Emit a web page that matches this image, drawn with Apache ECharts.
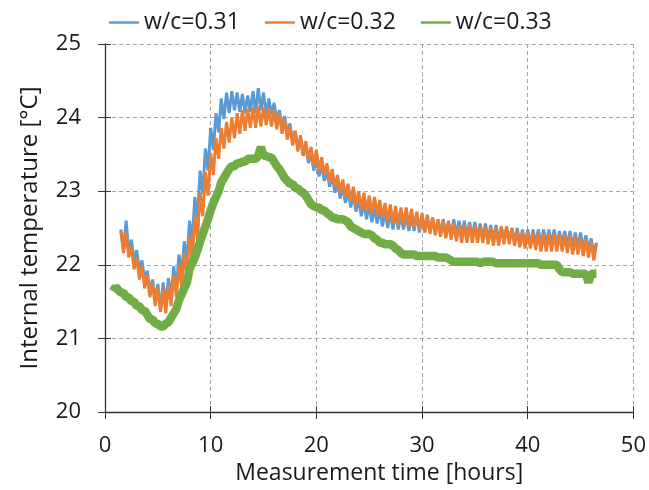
<!DOCTYPE html>
<html>
<head>
<meta charset="utf-8">
<script src="https://cdn.jsdelivr.net/npm/echarts@6/dist/echarts.min.js"></script>
<style>
html, body { margin: 0; padding: 0; background: #fff; }
#main { width: 649px; height: 490px; }
</style>
</head>
<body>
<div id="main"></div>
<script>
// legend names and colours
var seriesNames = ['w/c=0.31', 'w/c=0.32', 'w/c=0.33'];
var seriesColors = ['#5B9BD5', '#ED7D31', '#70AD47'];

// readings every 0.25 h
var sampleStep = 0.25;
var start031 = 1.5;
var start032 = 1.5;
var start033 = 0.75;

// internal temperature [°C], w/c=0.31
var temp031 = [
    22.48, 22.20, 22.60, 22.18, 22.34, 22.05, 22.20, 21.92, 22.06, 21.80,
    21.92, 21.64, 21.80, 21.52, 21.74, 21.38, 21.76, 21.45, 21.82, 21.55,
    21.98, 21.68, 22.14, 21.86, 22.32, 22.04, 22.60, 22.30, 22.92, 22.62,
    23.28, 22.96, 23.58, 23.28, 23.86, 23.56, 24.06, 23.80, 24.26, 23.98,
    24.34, 24.06, 24.36, 24.10, 24.34, 24.08, 24.32, 24.06, 24.30, 24.08,
    24.36, 24.06, 24.40, 24.10, 24.34, 24.04, 24.26, 24.04, 24.20, 23.96,
    24.10, 23.86, 24.02, 23.78, 23.92, 23.68, 23.82, 23.58, 23.72, 23.48,
    23.62, 23.38, 23.52, 23.28, 23.44, 23.20, 23.36, 23.14, 23.28, 23.06,
    23.22, 22.98, 23.14, 22.90, 23.06, 22.84, 23.02, 22.78, 22.96, 22.72,
    22.90, 22.66, 22.84, 22.62, 22.82, 22.58, 22.78, 22.56, 22.76, 22.52,
    22.74, 22.50, 22.72, 22.48, 22.72, 22.48, 22.68, 22.48, 22.68, 22.46,
    22.66, 22.46, 22.68, 22.44, 22.66, 22.44, 22.64, 22.44, 22.64, 22.42,
    22.62, 22.42, 22.62, 22.40, 22.60, 22.40, 22.62, 22.40, 22.60, 22.40,
    22.60, 22.38, 22.58, 22.38, 22.58, 22.36, 22.56, 22.36, 22.56, 22.34,
    22.54, 22.34, 22.54, 22.32, 22.52, 22.32, 22.52, 22.32, 22.50, 22.30,
    22.50, 22.30, 22.48, 22.28, 22.48, 22.26, 22.48, 22.28, 22.48, 22.28,
    22.48, 22.28, 22.48, 22.28, 22.48, 22.26, 22.46, 22.28, 22.46, 22.26,
    22.46, 22.24, 22.44, 22.24, 22.44, 22.22, 22.40, 22.20, 22.36, 22.16,
    22.30
];

// w/c=0.32
var temp032 = [
    22.46, 22.16, 22.44, 22.10, 22.24, 21.94, 22.10, 21.80, 21.98, 21.68,
    21.86, 21.56, 21.76, 21.44, 21.68, 21.36, 21.66, 21.34, 21.74, 21.44,
    21.86, 21.56, 22.00, 21.70, 22.16, 21.84, 22.38, 22.06, 22.66, 22.34,
    22.98, 22.66, 23.26, 22.94, 23.52, 23.22, 23.72, 23.44, 23.86, 23.58,
    23.94, 23.66, 24.00, 23.72, 24.06, 23.78, 24.10, 23.82, 24.12, 23.86,
    24.14, 23.86, 24.16, 23.88, 24.14, 23.90, 24.12, 23.88, 24.10, 23.84,
    24.06, 23.78, 23.98, 23.70, 23.88, 23.62, 23.82, 23.54, 23.76, 23.48,
    23.68, 23.42, 23.60, 23.34, 23.56, 23.28, 23.46, 23.22, 23.38, 23.12,
    23.30, 23.06, 23.22, 22.98, 23.16, 22.92, 23.10, 22.86, 23.06, 22.80,
    23.00, 22.76, 22.98, 22.72, 22.94, 22.70, 22.92, 22.68, 22.88, 22.64,
    22.84, 22.60, 22.82, 22.56, 22.80, 22.54, 22.78, 22.54, 22.78, 22.52,
    22.76, 22.50, 22.72, 22.48, 22.70, 22.44, 22.68, 22.42, 22.64, 22.40,
    22.62, 22.38, 22.60, 22.36, 22.58, 22.34, 22.56, 22.32, 22.54, 22.30,
    22.54, 22.30, 22.54, 22.30, 22.54, 22.30, 22.52, 22.30, 22.52, 22.28,
    22.50, 22.26, 22.50, 22.26, 22.52, 22.28, 22.52, 22.28, 22.50, 22.26,
    22.46, 22.24, 22.44, 22.22, 22.44, 22.22, 22.44, 22.20, 22.42, 22.18,
    22.42, 22.18, 22.42, 22.18, 22.42, 22.18, 22.42, 22.18, 22.40, 22.16,
    22.40, 22.14, 22.38, 22.14, 22.36, 22.12, 22.34, 22.10, 22.32, 22.06,
    22.28
];

// w/c=0.33
var temp033 = [
    21.64,
    21.70, 21.66, 21.62, 21.62,  21.56, 21.56, 21.50, 21.50,  21.44, 21.44, 21.38, 21.38,
    21.32, 21.26, 21.26, 21.20,  21.20, 21.16, 21.16, 21.20,  21.22, 21.28, 21.34, 21.40,
    21.52, 21.60, 21.68, 21.76,  21.94, 22.02, 22.10, 22.20,  22.32, 22.42, 22.52, 22.62,
    22.74, 22.84, 22.92, 23.00,  23.12, 23.18, 23.24, 23.30,  23.34, 23.34, 23.38, 23.38,
    23.40, 23.40, 23.44, 23.44,  23.44, 23.44, 23.48, 23.60,  23.48, 23.48, 23.46, 23.46,
    23.40, 23.34, 23.30, 23.24,  23.18, 23.14, 23.10, 23.10,  23.04, 23.04, 23.00, 22.98,
    22.94, 22.88, 22.82, 22.80,  22.78, 22.78, 22.74, 22.74,  22.70, 22.68, 22.64, 22.64,
    22.62, 22.62, 22.62, 22.60,  22.58, 22.52, 22.50, 22.48,  22.46, 22.44, 22.42, 22.42,
    22.42, 22.40, 22.36, 22.34,  22.30, 22.30, 22.28, 22.28,  22.28, 22.26, 22.22, 22.20,
    22.16, 22.14, 22.14, 22.14,  22.14, 22.14, 22.12, 22.12,  22.12, 22.12, 22.12, 22.12,
    22.12, 22.12, 22.10, 22.10,  22.10, 22.10, 22.08, 22.06,  22.04, 22.04, 22.04, 22.04,
    22.04, 22.04, 22.04, 22.04,  22.04, 22.04, 22.02, 22.04,  22.04, 22.04, 22.04, 22.04,
    22.02, 22.02, 22.02, 22.02,  22.02, 22.02, 22.02, 22.02,  22.02, 22.02, 22.02, 22.02,
    22.02, 22.02, 22.02, 22.02,  22.02, 22.00, 22.00, 22.00,  22.00, 22.00, 22.00, 22.00,
    21.94, 21.90, 21.90, 21.90,  21.90, 21.88, 21.88, 21.88,  21.88, 21.88, 21.88, 21.76,
    21.88, 21.88, 21.88
];

// axis ranges
var xMin = 0, xMax = 50, xStep = 10;
var yMin = 20, yMax = 25, yStep = 1;

var fontName = 'Open Sans';
var textColor = '#1a1a1a';

function toPairs(start, values) { // pair each reading with its time
    var out = [];
    for (var i = 0; i < values.length; i++) {
        out.push([start + i * sampleStep, values[i]]);
    }
    return out;
}

var chartDom = document.getElementById('main');
var myChart = echarts.init(chartDom, null, { renderer: 'canvas' });

var dashed = { color: '#a6a6a6', width: 1, type: [4, 3] };

var option = {
    animation: false,
    backgroundColor: '#fff',
    textStyle: { fontFamily: fontName, color: textColor },
    legend: {
        left: 104,
        top: 6,
        icon: 'rect',
        itemWidth: 30,
        itemHeight: 2.5,
        itemGap: 25,
        textStyle: { fontFamily: fontName, fontSize: 23, color: textColor },
        data: seriesNames
    },
    grid: { left: 105, right: 13, top: 44, bottom: 76, containLabel: false },
    xAxis: [{
        type: 'value',
        min: xMin, max: xMax, interval: xStep,
        name: 'Measurement time [hours]',
        nameLocation: 'middle',
        nameGap: 50,
        nameTextStyle: { fontFamily: fontName, fontSize: 23, color: textColor, padding: [0, 0, 0, 20] },
        axisLine: { lineStyle: { color: '#333', width: 1.3 } },
        axisTick: { inside: false, length: 7, lineStyle: { color: '#333' } },
        axisLabel: { margin: 23, fontFamily: fontName, fontSize: 22, color: textColor },
        splitLine: { show: true, lineStyle: dashed }
    }, {
        type: 'value', position: 'bottom', offset: 0,
        min: xMin, max: xMax, interval: xStep,
        axisLine: { show: false },
        axisTick: { inside: true, length: 6, lineStyle: { color: '#333' } },
        axisLabel: { show: false },
        splitLine: { show: false }
    }],
    yAxis: [{
        type: 'value',
        min: yMin, max: yMax, interval: yStep,
        name: 'Internal temperature [°C]',
        nameLocation: 'middle',
        nameGap: 63,
        nameTextStyle: { fontFamily: fontName, fontSize: 24, color: textColor },
        axisLine: { show: true, lineStyle: { color: '#333', width: 1.3 } },
        axisTick: { show: true, inside: false, length: 7, lineStyle: { color: '#333' } },
        axisLabel: { margin: 24, fontFamily: fontName, fontSize: 22, color: textColor },
        splitLine: { show: true, lineStyle: dashed }
    }, {
        type: 'value', position: 'left', offset: 0,
        min: yMin, max: yMax, interval: yStep,
        axisLine: { show: false },
        axisTick: { show: true, inside: true, length: 6, lineStyle: { color: '#333' } },
        axisLabel: { show: false },
        splitLine: { show: false }
    }],
    series: [{
        name: seriesNames[0], type: 'line', showSymbol: false, symbol: 'none',
        color: seriesColors[0],
        lineStyle: { width: 3, color: seriesColors[0] },
        data: toPairs(start031, temp031)
    }, {
        name: seriesNames[1], type: 'line', showSymbol: false, symbol: 'none',
        color: seriesColors[1],
        lineStyle: { width: 3, color: seriesColors[1] },
        data: toPairs(start032, temp032)
    }, {
        name: seriesNames[2], type: 'line', showSymbol: false, symbol: 'none',
        color: seriesColors[2],
        lineStyle: { width: 8.5, color: seriesColors[2] },
        data: toPairs(start033, temp033)
    }]
};

option && myChart.setOption(option);
</script>
</body>
</html>
